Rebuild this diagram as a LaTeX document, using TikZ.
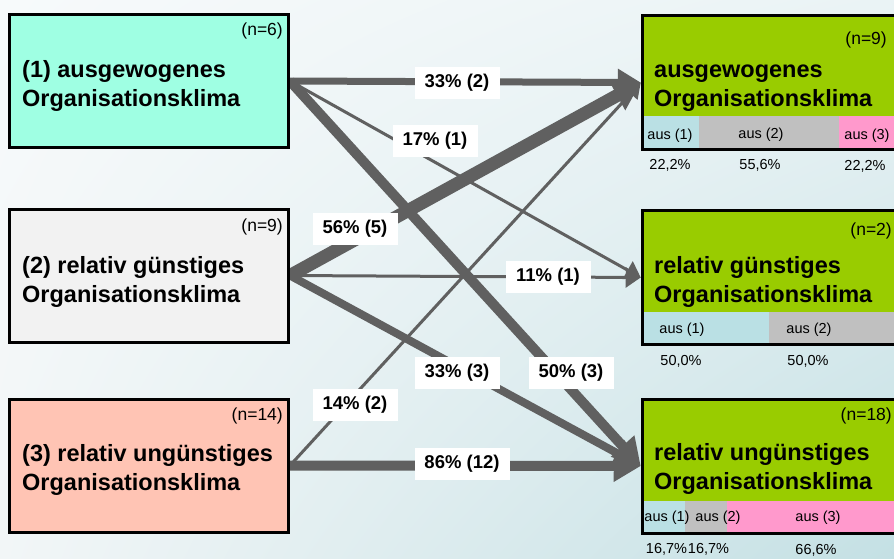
\documentclass[tikz,border=0pt]{standalone}
\usepackage{fontspec}
\setmainfont{Liberation Sans}
\usetikzlibrary{arrows.meta,shadings}
\definecolor{bgUL}{HTML}{F7FAFB}
\definecolor{bgUR}{HTML}{EAF3F5}
\definecolor{bgLL}{HTML}{F2F6F7}
\definecolor{bgLR}{HTML}{C4E0E4}
\definecolor{cone}{HTML}{9FFFE3}
\definecolor{ctwo}{HTML}{F2F2F2}
\definecolor{cthree}{HTML}{FFC4B4}
\definecolor{rgreen}{HTML}{99CC00}
\definecolor{sblue}{HTML}{BAE0E4}
\definecolor{sgray}{HTML}{C0C0C0}
\definecolor{spink}{HTML}{FF99CC}
\definecolor{arrowgray}{HTML}{606060}
\begin{document}
\begin{tikzpicture}[x=1pt,y=-1pt,
  lbox/.style={draw=black, line width=3pt, minimum width=279pt, minimum height=133pt, inner sep=0pt, outer sep=1.5pt},
  rbox/.style={draw=black, line width=3pt, fill=rgreen, minimum width=268pt, minimum height=134pt, inner sep=0pt, outer sep=1.5pt},
  ttl/.style={font=\fontsize{23.5}{28}\selectfont\bfseries, anchor=base west, inner sep=0pt},
  nlab/.style={font=\fontsize{17.5}{20}\selectfont, anchor=base east, inner sep=0pt},
  small/.style={font=\fontsize{14.5}{17}\selectfont, anchor=base, inner sep=0pt},
  plab/.style={fill=white, font=\fontsize{18.5}{22}\selectfont\bfseries, minimum width=85pt, minimum height=32pt, inner sep=0pt},
  flow/.style={draw=arrowgray, line width=#1},
]
\useasboundingbox (0,0) rectangle (894,558);
\clip (0,0) rectangle (894,558);
\shade[upper left=bgUL, upper right=bgUR, lower left=bgLL, lower right=bgLR] (0,0) rectangle (894,558);

% boxes (nodes placed first for names)
\path (149,81) node[lbox, draw=none] (L1) {};
\path (149,275.5) node[lbox, draw=none] (L2) {};
\path (149,465.5) node[lbox, draw=none] (L3) {};
\path (776.25,82.5) node[rbox, draw=none, fill=none] (RA) {};
\path (776.25,277.5) node[rbox, draw=none, fill=none] (RB) {};
\path (776.25,466) node[rbox, draw=none, fill=none] (RC) {};

% connectors
\draw[flow=3pt, -{Triangle[length=15pt,width=20pt]}] (L1.east) -- (RB.west);
\draw[flow=3pt, -{Triangle[length=15pt,width=20pt]}] (L2.east) -- (RB.west);
\draw[flow=3pt, -{Triangle[length=15pt,width=18pt]}] (L3.east) -- (RA.west);
\draw[flow=7pt, -{Triangle[length=23pt,width=26pt]}] (L1.east) -- (RA.west);
\draw[flow=13pt, -{Triangle[length=27pt,width=32pt]}] (L2.east) -- (RA.west);
\draw[flow=10pt, -{Triangle[length=27pt,width=30pt]}] (L1.east) -- (RC.west);
\draw[flow=8pt, -{Triangle[length=27pt,width=28pt]}] (L2.east) -- (RC.west);
\draw[flow=10pt, -{Triangle[length=27pt,width=30pt]}] (L3.east) -- (RC.west);

% percentage labels
\node[plab] (p1a) at (457,83) {33\% (2)};
\node[plab] (p1b) at (435,141) {17\% (1)};
\node[plab] (p2a) at (355,229) {56\% (5)};
\node[plab] (p2b) at (548,277) {11\% (1)};
\node[plab] (p2c) at (457,373) {33\% (3)};
\node[plab] (p1c) at (571,373) {50\% (3)};
\node[plab] (p3a) at (355,405) {14\% (2)};
\node[plab, minimum width=95pt] (p3c) at (462,464) {86\% (12)};

% left boxes
\node[lbox, fill=cone] (L1b) at (149,81) {};
\node[lbox, fill=ctwo] (L2b) at (149,275.5) {};
\node[lbox, fill=cthree] (L3b) at (149,465.5) {};
\node[nlab] (n1) at (283,35) {(n=6)};
\node[nlab] (n2) at (283,231) {(n=9)};
\node[nlab] (n3) at (283,420) {(n=14)};
\node[ttl] (t1a) at (22,77) {(1) ausgewogenes};
\node[ttl] (t1b) at (22,106) {Organisationsklima};
\node[ttl] (t2a) at (22,273) {(2) relativ günstiges};
\node[ttl] (t2b) at (22,302) {Organisationsklima};
\node[ttl] (t3a) at (22,461) {(3) relativ ungünstiges};
\node[ttl] (t3b) at (22,490) {Organisationsklima};

% right boxes
\node[rbox] (RAb) at (776.25,82.5) {};
\node[rbox] (RBb) at (776.25,277.5) {};
\node[rbox] (RCb) at (776.25,466) {};
% strips
\fill[sblue] (644,116) rectangle (699,148);
\fill[sgray] (699,116) rectangle (839,148);
\fill[spink] (839,116) rectangle (900,148);
\fill[sblue] (644,312) rectangle (769,343);
\fill[sgray] (769,312) rectangle (900,343);
\fill[sblue] (644,501) rectangle (685,532);
\fill[sgray] (685,501) rectangle (727,532);
\fill[spink] (727,501) rectangle (900,532);

\node[nlab] (nA) at (887,44) {(n=9)};
\node[nlab] (nB) at (892,235) {(n=2)};
\node[nlab] (nC) at (892,420) {(n=18)};
\node[ttl] (tAa) at (654,77) {ausgewogenes};
\node[ttl] (tAb) at (654,106) {Organisationsklima};
\node[ttl] (tBa) at (654,273) {relativ günstiges};
\node[ttl] (tBb) at (654,302) {Organisationsklima};
\node[ttl] (tCa) at (654,460) {relativ ungünstiges};
\node[ttl] (tCb) at (654,489) {Organisationsklima};

\node[small] (sA1) at (670,139) {aus (1)};
\node[small] (sA2) at (761,138) {aus (2)};
\node[small] (sA3) at (867,139) {aus (3)};
\node[small] (qA1) at (670,169) {22,2\%};
\node[small] (qA2) at (760,169) {55,6\%};
\node[small] (qA3) at (865,170) {22,2\%};

\node[small] (sB1) at (682,333) {aus (1)};
\node[small] (sB2) at (809,333) {aus (2)};
\node[small] (qB1) at (681,365) {50,0\%};
\node[small] (qB2) at (808,365) {50,0\%};

\node[small] (sC1) at (667,521) {aus (1)};
\node[small] (sC2) at (718,521) {aus (2)};
\node[small] (sC3) at (818,521) {aus (3)};
\node[small] (qC1) at (666.5,553) {16,7\%};
\node[small] (qC2) at (708.5,553) {16,7\%};
\node[small] (qC3) at (816,554) {66,6\%};
\end{tikzpicture}
\end{document}
